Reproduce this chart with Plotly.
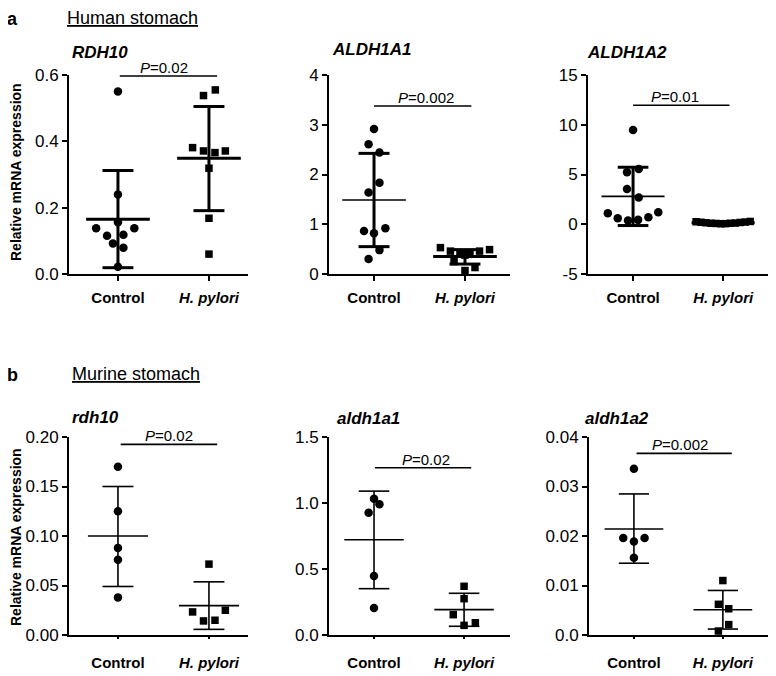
import plotly.graph_objects as go

# ---------------- data ----------------
categories = ["Control", "H. pylori"]
cat_labels = ["<b>Control</b>", "<b><i>H. pylori</i></b>"]

# Human stomach
RDH10_ctrl = [0.55, 0.24, 0.156, 0.138, 0.138, 0.115, 0.118, 0.092, 0.079, 0.022]
RDH10_hp = [0.538, 0.555, 0.381, 0.371, 0.366, 0.371, 0.319, 0.168, 0.060]
ALDH1A1_ctrl = [2.915, 2.61, 2.44, 1.836, 1.64, 0.864, 0.817, 0.918, 0.48, 0.30]
ALDH1A1_hp = [0.53, 0.46, 0.42, 0.40, 0.46, 0.49, 0.25, 0.38, 0.13, 0.07]
ALDH1A2_ctrl = [9.48, 5.23, 5.56, 3.55, 2.68, 1.1, 0.6, 0.37, 0.44, 0.70, 1.2]
ALDH1A2_hp = [0.25, 0.2, 0.15, 0.1, 0.08, 0.05, 0.06, 0.1, 0.12, 0.18, 0.22, 0.28]

# Murine stomach
rdh10_ctrl = [0.170, 0.125, 0.088, 0.076, 0.038]
rdh10_hp = [0.0716, 0.0233, 0.0142, 0.0149, 0.025]
aldh1a1_ctrl = [1.033, 0.927, 0.99, 0.447, 0.205]
aldh1a1_hp = [0.369, 0.275, 0.154, 0.073, 0.093]
aldh1a2_ctrl = [0.0336, 0.0196, 0.0189, 0.0196, 0.0156]
aldh1a2_hp = [0.011, 0.0062, 0.0053, 0.0021, 0.0008]

# summary (mean, lower, upper)
summ = {
    "RDH10": [(0.165, 0.019, 0.312), (0.349, 0.191, 0.505)],
    "ALDH1A1": [(1.487, 0.55, 2.425), (0.35, 0.20, 0.49)],
    "ALDH1A2": [(2.8, -0.13, 5.73), (0.15, 0.05, 0.25)],
    "rdh10": [(0.100, 0.049, 0.150), (0.0297, 0.0057, 0.0537)],
    "aldh1a1": [(0.722, 0.351, 1.09), (0.192, 0.066, 0.316)],
    "aldh1a2": [(0.0214, 0.0145, 0.0285), (0.0051, 0.0012, 0.009)],
}
p_values = {"RDH10": "0.02", "ALDH1A1": "0.002", "ALDH1A2": "0.01",
            "rdh10": "0.02", "aldh1a1": "0.02", "aldh1a2": "0.002"}

# ---------------- layout helpers (positions only) ----------------
jit = {
    "RDH10": ([0, 0, 0, -0.24, 0.18, -0.12, 0.06, -0.055, 0.06, 0],
              [-0.06, 0.07, -0.18, -0.06, 0.066, 0.18, 0, 0, 0]),
    "ALDH1A1": ([0, -0.06, 0.06, 0.06, -0.06, -0.11, 0, 0.125, 0.06, -0.06],
                [-0.27, -0.16, -0.055, 0.055, 0.16, 0.27, -0.12, 0, 0.11, 0]),
    "ALDH1A2": ([0, -0.067, 0.063, -0.067, 0.063, -0.28, -0.17, -0.056, 0.056, 0.17, 0.28],
                [-0.3, -0.245, -0.19, -0.135, -0.08, -0.025, 0.025, 0.08, 0.135, 0.19, 0.245, 0.3]),
    "rdh10": ([0, 0, 0, 0, 0], [0, -0.18, -0.06, 0.066, 0.18]),
    "aldh1a1": ([0, -0.06, 0.06, 0, 0], [0, 0, -0.12, 0, 0.125]),
    "aldh1a2": ([0, -0.12, 0, 0.12, 0], [0, -0.05, 0.066, 0.066, -0.05]),
}

panels = [
    # name, ctrl, hp, xdom(px), ydom(px), xrange, yrange, tickvals, ticktext, pline(y, x0, x1), ptext x, title(x,y px), thick, meanthick
    ("RDH10", RDH10_ctrl, RDH10_hp, (69, 248), (75, 274), (-0.538, 1.429), (0, 0.6),
     [0, 0.2, 0.4, 0.6], ["0.0", "0.2", "0.4", "0.6"], (0.597, 0.02, 1.09), 0.505, (70, 53), True, True),
    ("ALDH1A1", ALDH1A1_ctrl, ALDH1A1_hp, (329, 510), (75, 274), (-0.495, 1.495), (0, 4),
     [0, 1, 2, 3, 4], ["0", "1", "2", "3", "4"], (3.377, 0.0, 1.07), 0.566, (330, 50), True, False),
    ("ALDH1A2", ALDH1A2_ctrl, ALDH1A2_hp, (588, 770), (75, 274), (-0.5, 1.52), (-5, 15),
     [-5, 0, 5, 10, 15], ["-5", "0", "5", "10", "15"], (11.96, 0.0, 1.07), 0.47, (585, 52), True, False),
    ("rdh10", rdh10_ctrl, rdh10_hp, (69, 248), (437, 635), (-0.538, 1.429), (0, 0.2),
     [0, 0.05, 0.10, 0.15, 0.20], ["0.00", "0.05", "0.10", "0.15", "0.20"], (0.1926, 0.03, 1.09), 0.56, (70, 417), False, False),
    ("aldh1a1", aldh1a1_ctrl, aldh1a1_hp, (329, 510), (437, 635), (-0.5, 1.51), (0, 1.5),
     [0, 0.5, 1.0, 1.5], ["0.0", "0.5", "1.0", "1.5"], (1.267, 0.01, 1.08), 0.58, (335, 418), False, False),
    ("aldh1a2", aldh1a2_ctrl, aldh1a2_hp, (589, 770), (437, 635), (-0.505, 1.53), (0, 0.04),
     [0, 0.01, 0.02, 0.03, 0.04], ["0.0", "0.01", "0.02", "0.03", "0.04"], (0.0367, 0.03, 1.1), 0.52, (583, 418), False, False),
]

W, H = 776, 676
OFF = 8  # page body margin offset (screen px -> figure px)
FONT = "Liberation Sans, Arial, sans-serif"


def fx(s):
    return (s - OFF) / W


def fy(s):
    return 1 - (s - OFF) / H


fig = go.Figure()
annotations = []

for i, (name, ctrl, hp, xd, yd, xr, yr, tv, tt, pl, ptx, tpos, thick, meanthick) in enumerate(panels):
    k = "" if i == 0 else str(i + 1)
    xa, ya = "x" + k, "y" + k
    fig.update_layout(**{
        "xaxis" + k: dict(domain=[fx(xd[0]), fx(xd[1])], range=list(xr), anchor=ya, automargin=False,
                          tickvals=[0, 1], ticktext=cat_labels, showline=True, linecolor="black",
                          linewidth=2, ticks="outside", ticklen=5 if thick else 2, tickwidth=1.5,
                          tickcolor="black", showgrid=False, zeroline=False,
                          ticklabelstandoff=4 if thick else 11,
                          tickfont=dict(family=FONT, size=15, color="black")),
        "yaxis" + k: dict(domain=[fy(yd[1]), fy(yd[0])], range=list(yr), anchor=xa, automargin=False,
                          tickvals=tv, ticktext=tt, showline=True, linecolor="black", linewidth=2,
                          ticks="outside", ticklen=5, tickwidth=2, tickcolor="black",
                          showgrid=False, zeroline=False,
                          tickfont=dict(family=FONT, size=17, color="black")),
    })
    jc, jh = jit[name]
    for g, (vals, offs, sym, sz) in enumerate([(ctrl, jc, "circle", 8.5), (hp, jh, "square", 7.5)]):
        fig.add_trace(go.Scatter(x=[g + o for o in offs], y=vals, mode="markers", xaxis=xa, yaxis=ya,
                                 marker=dict(symbol=sym, size=sz, color="black"),
                                 cliponaxis=False, showlegend=False, hoverinfo="y"))
    vw = 3 if thick else 1.6
    for g, (m, lo, hi) in enumerate(summ[name]):
        mw = 0.35 if thick else 0.33
        cw = 0.17
        fig.add_trace(go.Scatter(x=[g, g, None, g - cw, g + cw, None, g - cw, g + cw],
                                 y=[lo, hi, None, lo, lo, None, hi, hi], mode="lines",
                                 xaxis=xa, yaxis=ya, line=dict(color="black", width=vw),
                                 cliponaxis=False, showlegend=False, hoverinfo="skip"))
        fig.add_trace(go.Scatter(x=[g - mw, g + mw], y=[m, m], mode="lines",
                                 xaxis=xa, yaxis=ya,
                                 line=dict(color="black", width=(3 if (meanthick or (thick and g == 1)) else 1.6)),
                                 cliponaxis=False, showlegend=False, hoverinfo="skip"))
    # p-value bracket
    fig.add_trace(go.Scatter(x=[pl[1], pl[2]], y=[pl[0], pl[0]], mode="lines", xaxis=xa, yaxis=ya,
                             line=dict(color="black", width=1.6), cliponaxis=False,
                             showlegend=False, hoverinfo="skip"))
    annotations.append(dict(x=ptx, y=pl[0], xref=xa, yref=ya, showarrow=False, yanchor="bottom",
                            yshift=-2, text="<i>P</i>=" + p_values[name],
                            font=dict(family=FONT, size=15, color="black")))
    annotations.append(dict(x=fx(tpos[0]), y=fy(tpos[1]), xref="paper", yref="paper",
                            xanchor="left", yanchor="middle", showarrow=False,
                            text="<b><i>" + name + "</i></b>",
                            font=dict(family=FONT, size=17, color="black")))

# headers
for lab, txt, yy in [("a", "Human stomach", 18), ("b", "Murine stomach", 374)]:
    annotations.append(dict(x=fx(5), y=fy(yy + 1), xref="paper", yref="paper", xanchor="left",
                            yanchor="middle", showarrow=False, text="<b>" + lab + "</b>",
                            font=dict(family=FONT, size=18, color="black")))
    annotations.append(dict(x=fx(65 if lab == "a" else 70), y=fy(yy), xref="paper", yref="paper",
                            xanchor="left", yanchor="middle", showarrow=False, text="<u>" + txt + "</u>",
                            font=dict(family=FONT, size=18, color="black")))
for yy in [172, 537]:
    annotations.append(dict(x=fx(16), y=fy(yy), xref="paper", yref="paper", xanchor="center",
                            yanchor="middle", showarrow=False, textangle=-90,
                            text="<b>Relative mRNA expression</b>",
                            font=dict(family=FONT, size=14, color="black")))

fig.update_layout(template="none", width=W, height=H, margin=dict(l=0, r=0, t=0, b=0, autoexpand=False),
                  plot_bgcolor="white", paper_bgcolor="white", annotations=annotations,
                  showlegend=False)

fig.write_html("out.html")
